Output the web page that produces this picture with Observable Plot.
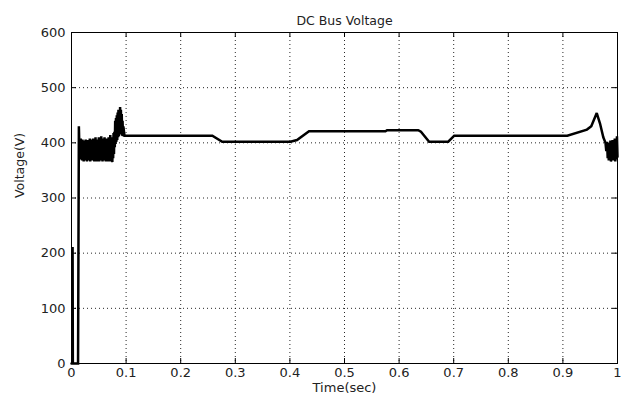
<!DOCTYPE html>
<html>
<head>
<meta charset="utf-8">
<script src="https://cdn.jsdelivr.net/npm/d3@7"></script>
<script src="https://cdn.jsdelivr.net/npm/@observablehq/plot@0.6"></script>
<style>
  html, body { margin: 0; padding: 0; background: #fff; }
  svg { display: block; }
</style>
</head>
<body>
<div id="chart"></div>
<script>
const title = "DC Bus Voltage";
const xLabel = "Time(sec)";
const yLabel = "Voltage(V)";
const xTicks = [0, 0.1, 0.2, 0.3, 0.4, 0.5, 0.6, 0.7, 0.8, 0.9, 1];
const yTicks = [0, 100, 200, 300, 400, 500, 600];

// time (s) and DC bus voltage (V)
const time = [
  0, 0.0015, 0.002, 0.0025, 0.012, 0.0135,
  0.014, 0.0148, 0.0155, 0.0163, 0.017, 0.0178, 0.0185, 0.0193, 0.02, 0.0208,
  0.0215, 0.0223, 0.023, 0.0238, 0.0245, 0.0253, 0.026, 0.0268, 0.0275, 0.0283,
  0.029, 0.0298, 0.0305, 0.0313, 0.032, 0.0328, 0.0335, 0.0343, 0.035, 0.0358,
  0.0365, 0.0373, 0.038, 0.0388, 0.0395, 0.0403, 0.041, 0.0418, 0.0425, 0.0433,
  0.044, 0.0448, 0.0455, 0.0463, 0.047, 0.0478, 0.0485, 0.0493, 0.05, 0.0508,
  0.0515, 0.0523, 0.053, 0.0538, 0.0545, 0.0553, 0.056, 0.0568, 0.0575, 0.0583,
  0.059, 0.0598, 0.0605, 0.0613, 0.062, 0.0628, 0.0635, 0.0643, 0.065, 0.0658,
  0.0665, 0.0673, 0.068, 0.0688, 0.0695, 0.0703, 0.071, 0.0718, 0.0725, 0.0733,
  0.074, 0.0748, 0.0755, 0.0763, 0.077, 0.0778, 0.0785, 0.0793, 0.08, 0.0808,
  0.0815, 0.0823, 0.083, 0.0838, 0.0845, 0.0853, 0.086, 0.0868, 0.0875, 0.0883,
  0.089, 0.0898, 0.0905, 0.0913, 0.092, 0.0928, 0.0935, 0.0943, 0.095, 0.097, 0.1,
  0.258, 0.276, 0.401, 0.413, 0.435, 0.575, 0.578, 0.635, 0.64, 0.655, 0.69,
  0.701, 0.908, 0.944, 0.952, 0.962,
  0.968, 0.974, 0.978, 0.9795, 0.981, 0.982, 0.983, 0.984, 0.985, 0.986, 0.987,
  0.988, 0.989, 0.99, 0.991, 0.992, 0.993, 0.994, 0.995, 0.996, 0.997, 0.998,
  0.999, 1.0
];
const voltage = [
  0, 0, 211, 0, 0, 430,
  410, 378, 400, 372, 408, 370, 402, 368, 406, 372,
  400, 366, 404, 370, 398, 368, 406, 372, 402, 366,
  405, 370, 400, 368, 404, 372, 408, 366, 402, 370,
  406, 368, 404, 372, 408, 368, 400, 366, 405, 372,
  410, 370, 402, 366, 406, 368, 404, 372, 410, 366,
  402, 370, 406, 368, 412, 372, 404, 366, 408, 370,
  402, 368, 410, 372, 406, 366, 404, 370, 408, 368,
  402, 366, 410, 372, 406, 368, 414, 366, 404, 370,
  410, 365, 406, 372, 418, 380, 420, 392, 440, 398,
  445, 402, 450, 405, 455, 410, 460, 412, 458, 420,
  465, 418, 460, 415, 452, 413, 440, 412, 430, 413, 413,
  413, 402, 402, 405, 421, 421, 423, 423, 420, 402, 402,
  413, 413, 424, 430, 454,
  435, 410, 400, 385, 402, 372, 400, 368, 398, 372, 404,
  366, 400, 370, 405, 368, 402, 372, 408, 366, 404, 370,
  412, 375
];

const data = time.map((t, i) => ({t, v: voltage[i]}));

const W = 624, H = 397;
const mL = 71, mR = 7, mT = 32, mB = 34;
const plotW = W - mL - mR, plotH = H - mT - mB;
const font = "DejaVu Sans, sans-serif";

const chart = Plot.plot({
  width: W,
  height: H,
  marginLeft: mL,
  marginRight: mR,
  marginTop: mT,
  marginBottom: mB,
  style: {fontFamily: font, fontSize: "13px", color: "#222", background: "#fff"},
  x: {domain: [0, 1]},
  y: {domain: [0, 600]},
  marks: [
    Plot.gridX(xTicks.slice(1, -1), {stroke: "#000", strokeOpacity: 0.85, strokeWidth: 1, strokeDasharray: "1,3"}),
    Plot.gridY(yTicks.slice(1, -1), {stroke: "#000", strokeOpacity: 0.85, strokeWidth: 1, strokeDasharray: "1,3"}),
    Plot.ruleX(xTicks, {x: d => d, insetTop: plotH - 5, stroke: "#000"}),
    Plot.ruleX(xTicks, {x: d => d, insetBottom: plotH - 5, stroke: "#000"}),
    Plot.ruleY(yTicks, {y: d => d, insetRight: plotW - 5, stroke: "#000"}),
    Plot.ruleY(yTicks, {y: d => d, insetLeft: plotW - 5, stroke: "#000"}),
    Plot.line(data, {x: "t", y: "v", stroke: "#000", strokeWidth: 2.5, strokeLinejoin: "miter", strokeMiterlimit: 2}),
    Plot.frame({stroke: "#000", strokeWidth: 1}),
    Plot.axisX(xTicks, {tickSize: 0, tickPadding: 4, tickFormat: d => String(d), label: null, fontSize: 13}),
    Plot.axisY(yTicks, {tickSize: 0, tickPadding: 6, tickFormat: d => String(d), label: null, fontSize: 13}),
    Plot.text([title], {frameAnchor: "top", dy: -16, fontSize: 12.5, fill: "#222"}),
    Plot.text([xLabel], {frameAnchor: "bottom", dy: 28.5, fontSize: 13, fill: "#222"}),
    Plot.text([yLabel], {frameAnchor: "left", dx: -52, rotate: -90, fontSize: 12.5, fill: "#222"})
  ]
});

document.getElementById("chart").appendChild(chart);
</script>
</body>
</html>
